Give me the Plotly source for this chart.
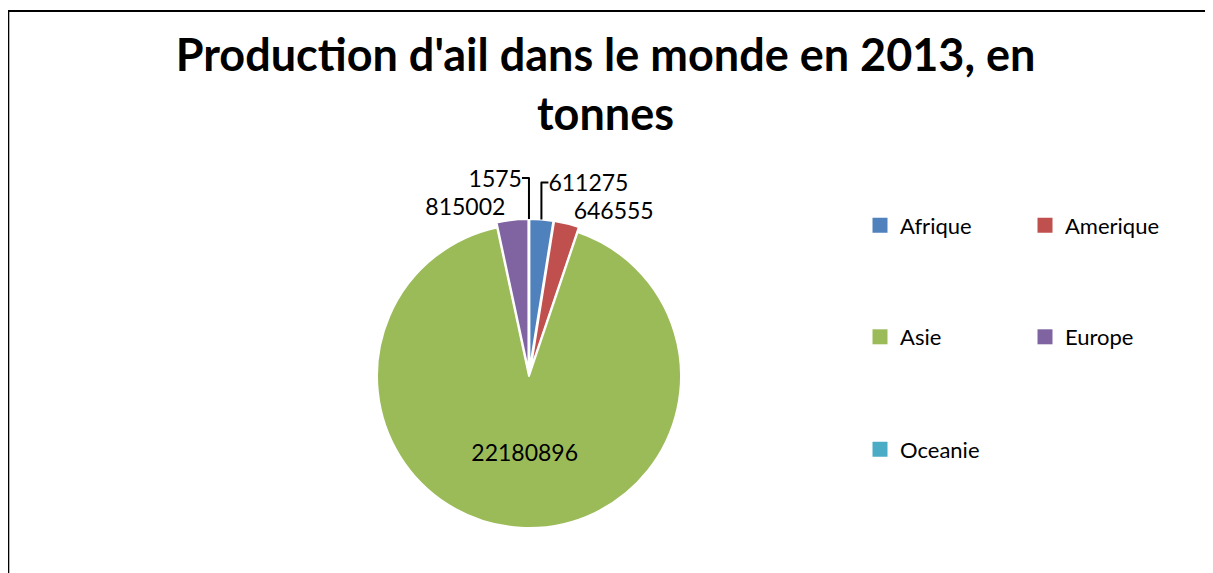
import plotly.graph_objects as go

# ---- data ----
categories = ["Afrique", "Amerique", "Asie", "Europe", "Oceanie"]
values = [611275, 646555, 22180896, 815002, 1575]
colors = ["#4F81BD", "#C0504D", "#9BBB59", "#8064A2", "#4BACC6"]
pulls = [0.033, 0.033, 0, 0.033, 0.033]
text_positions = ["outside", "outside", "inside", "outside", "outside"]
legend_ids = ["legend", "legend", "legend2", "legend2", "legend3"]
title_text = "Production d'ail dans le monde en 2013, en<br>tonnes"

# ---- layout geometry ----
# The page body has an 8px margin: screen pixel s -> figure pixel s - OFF
OFF = 8
W, H = 1213 - OFF, 573 - OFF
L, T = 364, 211
pw = ph = 314
R, B = W - L - pw, H - T - ph


def sx(s):
    """screen x pixel -> paper x"""
    return (s - OFF - L) / pw


def sy(s):
    """screen y pixel -> paper y"""
    return (H - B - (s - OFF)) / ph


fig = go.Figure()
fig.add_trace(go.Pie(
    labels=categories, values=values, sort=False, direction="clockwise",
    rotation=0,
    marker=dict(colors=colors, line=dict(color="white", width=2)),
    pull=pulls, textposition=text_positions, texttemplate="%{value:d}",
    textfont=dict(family="Lato", size=23, color="black"),
    insidetextorientation="horizontal", showlegend=False,
))
for cat, col, lg in zip(categories, colors, legend_ids):
    fig.add_trace(go.Scatter(
        x=[None], y=[None], mode="markers", name=cat,
        marker=dict(symbol="square", size=15, color=col),
        legend=lg, showlegend=True, hoverinfo="skip",
    ))

legend_common = dict(
    orientation="h", xref="paper", yref="paper",
    xanchor="left", yanchor="middle", x=sx(860),
    font=dict(family="Lato", size=22, color="black"),
    bgcolor="rgba(0,0,0,0)", borderwidth=0,
    entrywidth=120, entrywidthmode="pixels",
)
row_centers = [225.5, 337, 449.5]

fig.update_layout(
    width=W, height=H,
    margin=dict(l=L, r=R, t=T, b=B, autoexpand=False),
    paper_bgcolor="white", plot_bgcolor="white",
    xaxis=dict(visible=False, range=[0, 1], fixedrange=True),
    yaxis=dict(visible=False, range=[0, 1], fixedrange=True),
    title=dict(
        text=title_text, x=(605.5 - OFF) / W, xref="container",
        xanchor="center",
        y=1 - 63 / H, yref="container", yanchor="top",
        font=dict(family="Lato", size=45, color="black", weight="bold"),
    ),
    legend=dict(**legend_common, y=sy(row_centers[0])),
    legend2=dict(**legend_common, y=sy(row_centers[1])),
    legend3=dict(**legend_common, y=sy(row_centers[2])),
    shapes=[
        dict(type="line", xref="paper", yref="paper",
             x0=sx(8.3), x1=sx(8.3), y0=sy(11), y1=sy(573),
             line=dict(color="black", width=2), layer="below"),
        dict(type="line", xref="paper", yref="paper",
             x0=sx(7.3), x1=sx(1213), y0=sy(11), y1=sy(11),
             line=dict(color="black", width=2), layer="below"),
    ],
)

fig.write_html("out.html")
